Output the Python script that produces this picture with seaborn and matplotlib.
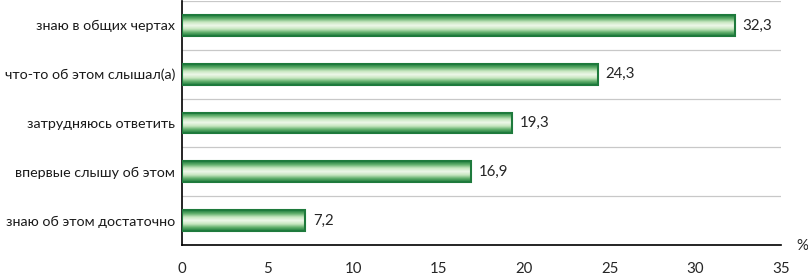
import numpy as np
import pandas as pd
import matplotlib
matplotlib.use("Agg")
import matplotlib.pyplot as plt
from matplotlib.colors import LinearSegmentedColormap
import seaborn as sns

categories = ['знаю в общих чертах', 'что-то об этом слышал(а)', 'затрудняюсь ответить',
              'впервые слышу об этом', 'знаю об этом достаточно']
values = [32.3, 24.3, 19.3, 16.9, 7.2]
x_ticks = [0, 5, 10, 15, 20, 25, 30, 35]

df = pd.DataFrame({'cat': categories, 'val': values})

sns.set_style('white')
plt.rcParams['font.family'] = ['Lato', 'DejaVu Sans']

fig = plt.figure(figsize=(8.08, 2.75), dpi=100)
ax = fig.add_axes([182 / 808, 30 / 275, 599 / 808, 244 / 275])

sns.barplot(data=df, x='val', y='cat', orient='h', width=0.43, color='#9fd49a',
            edgecolor='#1e7a3c', linewidth=1.5, ax=ax, zorder=3)

# vertical gradient inside each bar: dark edges, light centre
grad = LinearSegmentedColormap.from_list('g', ['#1e7a3c', '#5fae6a', '#c6e6bf', '#eef8ea',
                                               '#c6e6bf', '#5fae6a', '#1e7a3c'])
g = np.linspace(0, 1, 256).reshape(-1, 1)
for p in ax.patches:
    x0, y0 = p.get_x(), p.get_y()
    w, h = p.get_width(), p.get_height()
    im = ax.imshow(g, cmap=grad, aspect='auto', extent=[x0, x0 + w, y0 + h, y0],
                   zorder=3.5, interpolation='bilinear')
    im.set_clip_path(p)
    p.set_facecolor('none')
    p.set_zorder(4)
    ax.text(x0 + w + 0.45, y0 + h / 2, f'{w:.1f}'.replace('.', ','), va='center',
            ha='left', fontsize=10.8, color='#262626', zorder=5)

n = len(categories)
ax.set_xlim(0, 35)
ax.set_ylim(n - 0.5, -0.5)
ax.set_xticks(x_ticks)
ax.set_xlabel('')
ax.set_ylabel('')

# category boundaries: gridlines + ticks
bounds = np.arange(-0.5, n, 1.0)
ax.set_yticks(bounds, minor=True)
ax.yaxis.grid(True, which='minor', color='#c8c8c8', linewidth=0.9, zorder=0)
ax.tick_params(axis='y', which='major', length=0, pad=5, labelsize=10.3, labelcolor='#1a1a1a')
ax.tick_params(axis='y', which='minor', length=4, width=1.2, color='black', direction='out')
ax.tick_params(axis='x', which='major', length=5, width=1.2, color='black', direction='inout',
               pad=10, labelsize=10.8, labelcolor='#262626')

for s in ['top', 'right']:
    ax.spines[s].set_visible(False)
for s in ['left', 'bottom']:
    ax.spines[s].set_color('black')
    ax.spines[s].set_linewidth(1.2)

fig.text(802 / 808, 1 - 246 / 275, '%', ha='center', va='center', fontsize=10.8, color='#262626')

fig.savefig('out.png', dpi=100)
